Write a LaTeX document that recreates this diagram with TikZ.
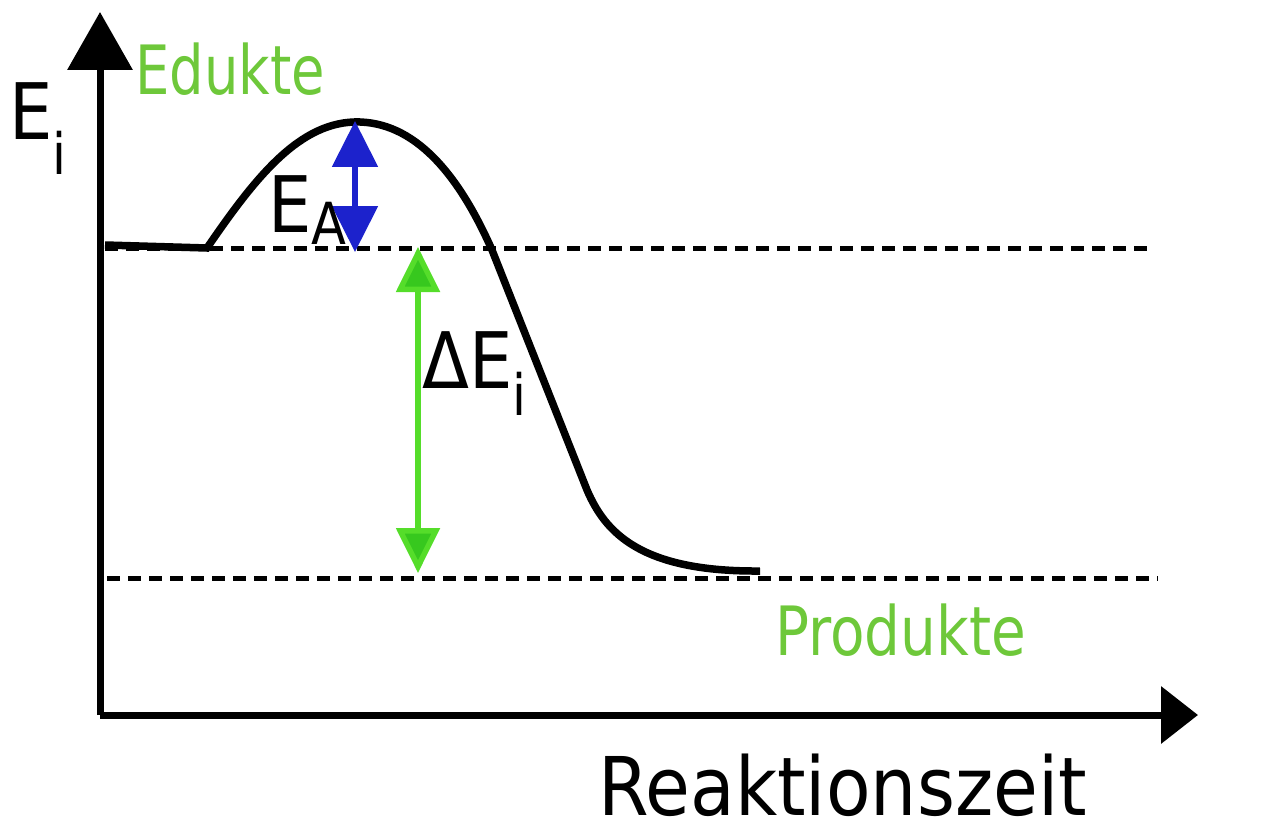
\documentclass[tikz,border=0pt]{standalone}
\usepackage{fontspec}
\setmainfont{DejaVu Sans}
\newfontfamily\labfont[FakeStretch=0.88]{DejaVu Sans}
\newfontfamily\timefont[FakeStretch=0.9]{DejaVu Sans}
\newfontfamily\greenfont[FakeStretch=0.8]{DejaVu Sans}
\newfontfamily\prodfont[FakeStretch=0.83]{DejaVu Sans}
\usepackage{xcolor}
\usepackage{tikz}
\usetikzlibrary{arrows.meta, calc}

\definecolor{labgreen}{RGB}{110,200,58}
\definecolor{arrgreen}{RGB}{85,221,42}
\definecolor{tipgreen}{RGB}{55,200,30}
\definecolor{arrblue}{RGB}{28,34,204}

\begin{document}
\begin{tikzpicture}[x=1pt, y=-1pt,
    axis/.style={line width=7pt},
    level/.style={line width=5pt, dash pattern=on 13pt off 8pt},
    curve/.style={line width=7.5pt},
    label/.style={inner sep=0pt, anchor=base west, font=\labfont\fontsize{78}{90}\selectfont},
    state/.style={inner sep=0pt, anchor=base west, text=labgreen, font=\greenfont\fontsize{68}{80}\selectfont},
    ea/.style={line width=5.5pt, arrblue, {Triangle[length=46pt, width=45pt]}-{Triangle[length=46pt, width=45pt]}},
    de/.style={line width=5.5pt, arrgreen, {Triangle[length=45pt, width=43pt, fill=tipgreen]}-{Triangle[length=45pt, width=43pt, fill=tipgreen]}}]

    \useasboundingbox (0,0) rectangle (1280,832);

    % Axes
    \coordinate (origin) at (100,715);
    \coordinate (ytop) at (100,12);
    \coordinate (xend) at (1198,715);
    \draw[axis, -{Triangle[length=58pt, width=64pt]}] (origin) -- (ytop);
    \draw[axis, -{Triangle[length=37pt, width=56pt]}] (origin) -- (xend);

    % Energy levels
    \coordinate (eduL) at (105,248);
    \coordinate (eduR) at (1148,248);
    \coordinate (proL) at (107,578);
    \coordinate (proR) at (1158,578);
    \draw[level] (eduL) -- (eduR);
    \draw[level] (proL) -- (proR);

    % Reaction path
    \coordinate (start) at (105,245);
    \coordinate (rise) at (207,248);
    \coordinate (peak) at (360,122);
    \coordinate (cross) at (492,250);
    \coordinate (fall) at (587,490);
    \coordinate (stop) at (760,571);
    \draw[curve] (start) -- (rise)
        .. controls (255,178) and (300,120) .. (peak)
        .. controls (420,124) and (462,182) .. (cross)
        -- (fall)
        .. controls (605,532) and (640,572) .. (stop);

    % Activation energy and reaction energy
    \coordinate (eatop) at (355,121);
    \coordinate (eabot) at (355,252);
    \draw[ea] (eatop) -- (eabot);
    \coordinate (detop) at (418,247);
    \coordinate (debot) at (418,573);
    \draw[de] (detop) -- (debot);

    % Labels
    \node[label] (ei) at (9,140) {E\raisebox{-35pt}{\fontsize{57}{60}\selectfont i}};
    \node[label] (eaLab) at (268,232) {E\raisebox{-13pt}{\fontsize{58}{70}\selectfont A}};
    \node[label] (deLab) at (422,388) {ΔE\raisebox{-27pt}{\fontsize{57}{60}\selectfont i}};
    \node[label, font=\timefont\fontsize{81}{90}\selectfont] (time) at (598,815) {Reaktionszeit};
    \node[state] (edukte) at (135,95) {Edukte};
    \node[state, font=\prodfont\fontsize{68}{80}\selectfont] (produkte) at (775,655) {Produkte};

\end{tikzpicture}
\end{document}
